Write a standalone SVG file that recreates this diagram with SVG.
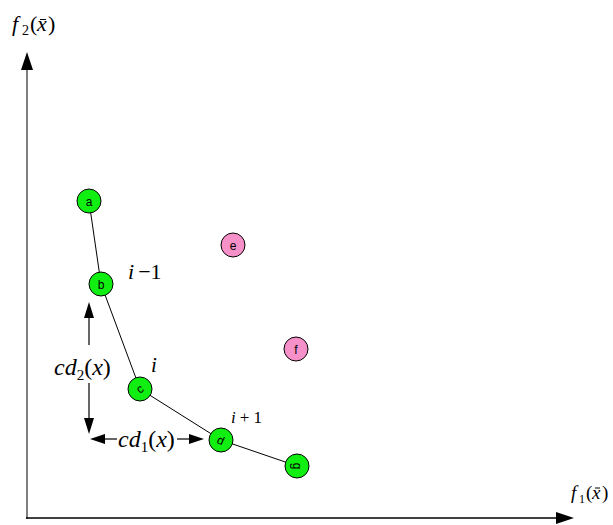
<svg xmlns="http://www.w3.org/2000/svg" width="613" height="525" viewBox="0 0 613 525">
<style>
.node circle{stroke:#000;stroke-width:1}
.g circle{fill:#11ee11}
.p circle{fill:#f590c8}
.node text{font-family:"Liberation Sans",Arial,sans-serif;font-size:12px;text-anchor:middle;fill:#000}
.m{font-family:"Liberation Serif","Times New Roman",serif;font-style:italic;fill:#000}
.r{font-family:"Liberation Serif","Times New Roman",serif;font-style:normal;fill:#000}
.edge{stroke:#000;stroke-width:1;fill:none}
</style>
<rect width="613" height="525" fill="#fff"/>
<g id="axes">
<line x1="27" y1="519" x2="27" y2="70" stroke="#555" stroke-width="1.5"/>
<path d="M21,70 L27,52 L33,70 Z" fill="#000"/>
<line x1="26" y1="518" x2="556" y2="518" stroke="#000" stroke-width="1.5"/>
<path d="M556,512 L574,518 L556,524 Z" fill="#000"/>
<text x="12" y="31" class="m" font-size="22">f</text>
<text x="22" y="35" class="r" font-size="14">2</text>
<text x="30" y="31" class="r" font-size="22">(</text>
<text x="37" y="31" class="m" font-size="22">x</text>
<text x="48" y="31" class="r" font-size="22">)</text>
<line x1="40" y1="19.5" x2="46" y2="19.5" stroke="#000" stroke-width="1"/>
<text x="571" y="499" class="m" font-size="19">f</text>
<text x="579" y="503" class="r" font-size="12">1</text>
<text x="586" y="499" class="r" font-size="19">(</text>
<text x="592" y="499" class="m" font-size="19">x</text>
<text x="602" y="499" class="r" font-size="19">)</text>
<line x1="595" y1="488" x2="600" y2="488" stroke="#000" stroke-width="1"/>
</g>
<g id="connectors">
<polyline class="edge" points="89,201 101,284 140,389 221,440 297,466"/>
<line x1="89" y1="345" x2="89" y2="318" stroke="#000" stroke-width="1.2"/>
<path d="M84,318 L89,302 L94,318 Z" fill="#000"/>
<line x1="89" y1="383" x2="89" y2="418" stroke="#000" stroke-width="1.2"/>
<path d="M84,418 L89,434 L94,418 Z" fill="#000"/>
<line x1="117" y1="439" x2="105" y2="439" stroke="#000" stroke-width="1.2"/>
<path d="M105,434 L90,439 L105,444 Z" fill="#000"/>
<line x1="177" y1="439" x2="189" y2="439" stroke="#000" stroke-width="1.2"/>
<path d="M189,434 L204,439 L189,444 Z" fill="#000"/>
</g>
<g id="labels">
<text x="128" y="279" class="m" font-size="22">i<tspan class="r" dx="4">−1</tspan></text>
<text x="151" y="372" class="m" font-size="21">i</text>
<text x="231" y="423" class="m" font-size="17">i<tspan class="r" dx="4">+ 1</tspan></text>
<text x="54" y="375" class="m" font-size="24">cd<tspan class="r" font-size="15" dy="5">2</tspan><tspan class="r" dy="-5">(</tspan>x<tspan class="r">)</tspan></text>
<text x="118" y="447" class="m" font-size="24">cd<tspan class="r" font-size="15" dy="5">1</tspan><tspan class="r" dy="-5">(</tspan>x<tspan class="r">)</tspan></text>
</g>
<g id="node-a" class="node g"><circle cx="89" cy="201" r="12"/><text x="89" y="205.5">a</text></g>
<g id="node-b" class="node g"><circle cx="101" cy="284" r="12"/><text x="101" y="288.5">b</text></g>
<g id="node-c" class="node g"><circle cx="140" cy="389" r="12"/><text x="140" y="393" transform="rotate(-35 140 389)">c</text></g>
<g id="node-d" class="node g"><circle cx="221" cy="440" r="12"/><text x="221" y="444.5" transform="rotate(25 221 440)">d</text></g>
<g id="node-g" class="node g"><circle cx="297" cy="466" r="12"/><text x="297" y="470" transform="rotate(90 297 466)">g</text></g>
<g id="node-e" class="node p"><circle cx="233" cy="245" r="12"/><text x="233" y="249.5">e</text></g>
<g id="node-f" class="node p"><circle cx="296" cy="349" r="12"/><text x="296" y="353.5">f</text></g>
</svg>
